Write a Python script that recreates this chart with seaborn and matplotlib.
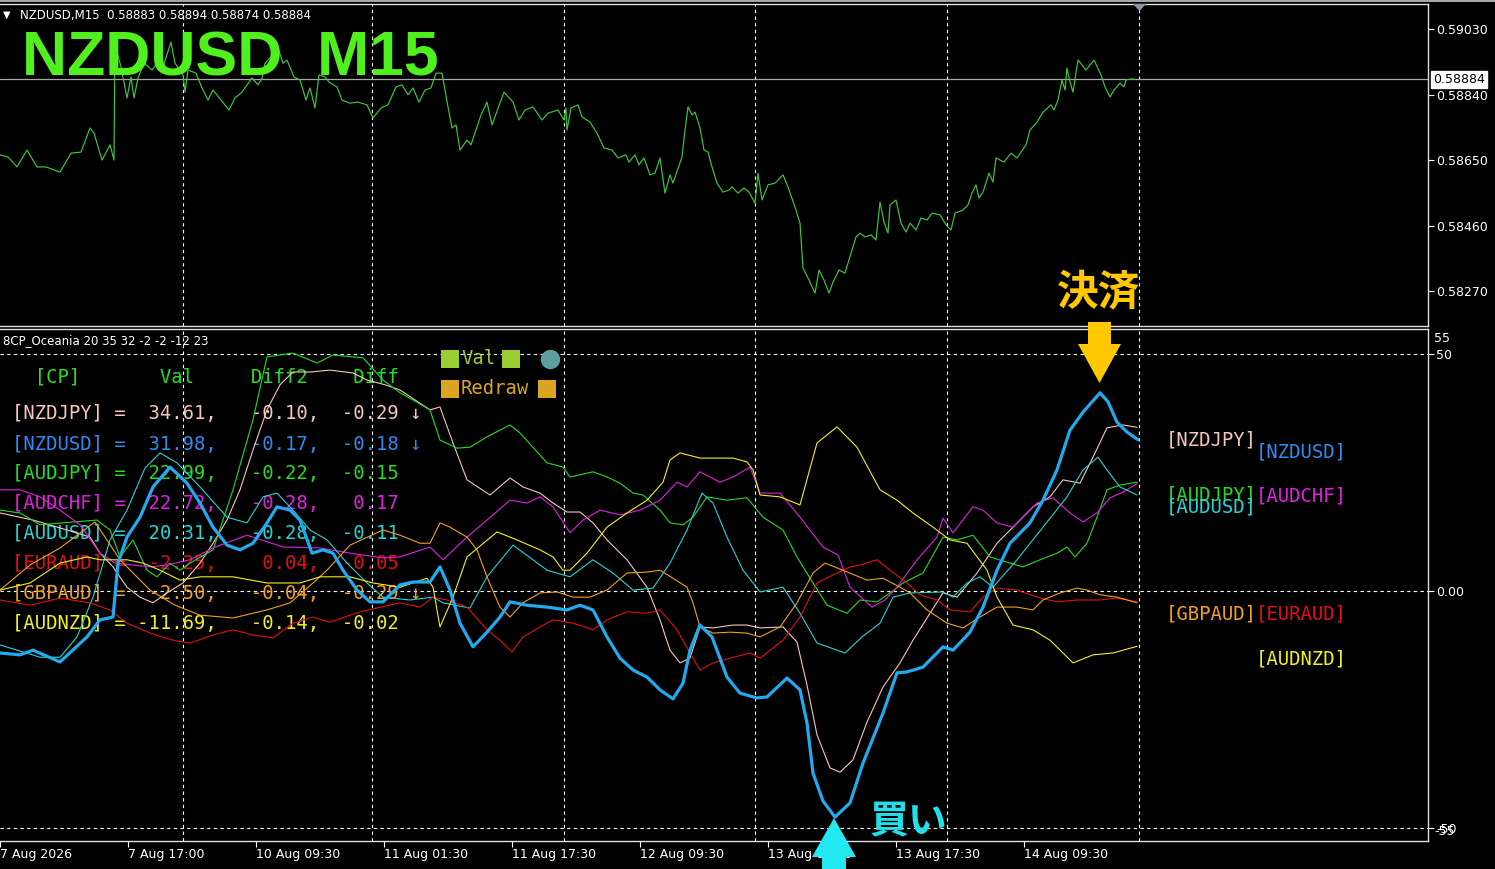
import matplotlib
matplotlib.use("Agg")
import matplotlib.pyplot as plt
import matplotlib.transforms as mtransforms
from matplotlib.patches import Polygon, Rectangle
from matplotlib.lines import Line2D
import seaborn as sns

W, H = 1495, 869

# === time axis: steps of 7.5 min (2 steps per M15 bar) ===
tick_t = [0, 128, 256, 384, 512, 640, 768, 896, 1024]
tick_labels = ["7 Aug 2026", "7 Aug 17:00", "10 Aug 09:30", "11 Aug 01:30", "11 Aug 17:30",
               "12 Aug 09:30", "13 Aug 01:30", "13 Aug 17:30", "14 Aug 09:30"]
grid_t = [183, 372, 564, 755, 947, 1139]

# === NZDUSD M15 close ===
price_t = [0, 8, 17, 27, 37, 46, 60, 71, 81, 90, 94, 102, 110, 114, 115, 121, 127, 131, 134, 138,
           144, 152, 158, 163, 171, 175, 183, 185, 188, 196, 202, 208, 213, 221, 229, 235, 242, 252, 258, 262,
           265, 271, 278, 283, 287, 294, 300, 306, 310, 315, 319, 325, 329, 337, 342, 350, 358, 367, 373, 381,
           388, 396, 402, 408, 413, 419, 425, 431, 436, 442, 448, 452, 456, 460, 467, 471, 481, 487, 492, 504,
           513, 519, 525, 533, 542, 548, 558,
           564, 566, 567, 571, 578, 582, 590, 597, 604, 612, 618, 626, 629, 635, 639, 644, 650, 655, 660, 665,
           670, 673, 682, 685, 688, 692, 695, 700, 704, 708, 712, 717, 723, 729, 732, 738, 744, 749, 755, 758,
           762, 768, 775, 783, 788, 796, 800, 803, 809, 815, 819, 824, 829, 833, 839, 845, 848, 856, 860, 865,
           871, 876, 880, 884, 888, 890, 896, 901, 906, 910, 916, 921, 927, 932, 940, 946, 951, 955, 963, 968,
           972, 976, 979, 983, 989, 993, 996, 1004, 1011, 1017, 1026, 1030, 1037, 1043, 1051, 1054, 1058, 1062,
           1065, 1067, 1070, 1073, 1078, 1086, 1094, 1101, 1105, 1110, 1114, 1120, 1124, 1126, 1131, 1135]
price = [0.58665, 0.58659, 0.58630, 0.58679, 0.58630, 0.58630, 0.58615, 0.58670, 0.58673, 0.58743,
         0.58728, 0.58650, 0.58694, 0.58650, 0.58984, 0.58920, 0.58830, 0.58891, 0.58830, 0.58888,
         0.58931, 0.58911, 0.58934, 0.58920, 0.58992, 0.58931, 0.58897, 0.58847, 0.58911, 0.58902,
         0.58859, 0.58824, 0.58853, 0.58824, 0.58795, 0.58830, 0.58847, 0.58888, 0.58868, 0.58888,
         0.58931, 0.58949, 0.58975, 0.58931, 0.58940, 0.58891, 0.58882, 0.58824, 0.58859, 0.58801,
         0.58897, 0.58891, 0.58876, 0.58862, 0.58824, 0.58815, 0.58818, 0.58810, 0.58772, 0.58801,
         0.58810, 0.58862, 0.58868, 0.58839, 0.58859, 0.58818, 0.58853, 0.58859, 0.58902, 0.58902,
         0.58804, 0.58743, 0.58752, 0.58679, 0.58708, 0.58694, 0.58781, 0.58818, 0.58752, 0.58847,
         0.58818, 0.58766, 0.58795, 0.58804, 0.58766, 0.58786, 0.58795,
         0.58766, 0.58801, 0.58737, 0.58801, 0.58810, 0.58775, 0.58760, 0.58728, 0.58685, 0.58679,
         0.58656, 0.58665, 0.58644, 0.58665, 0.58636, 0.58656, 0.58607, 0.58612, 0.58656, 0.58554,
         0.58607, 0.58583, 0.58659, 0.58737, 0.58804, 0.58781, 0.58789, 0.58743, 0.58679, 0.58673,
         0.58630, 0.58583, 0.58557, 0.58563, 0.58572, 0.58554, 0.58569, 0.58557, 0.58525, 0.58612,
         0.58534, 0.58578, 0.58583, 0.58607, 0.58572, 0.58505, 0.58467, 0.58337, 0.58302, 0.58264,
         0.58331, 0.58302, 0.58264, 0.58296, 0.58331, 0.58322, 0.58351, 0.58427, 0.58438, 0.58427,
         0.58433, 0.58418, 0.58528, 0.58470, 0.58438, 0.58520, 0.58534, 0.58467, 0.58441, 0.58467,
         0.58447, 0.58482, 0.58476, 0.58496, 0.58491, 0.58462, 0.58447, 0.58496, 0.58505, 0.58520,
         0.58554, 0.58578, 0.58540, 0.58557, 0.58612, 0.58586, 0.58656, 0.58644, 0.58670, 0.58656,
         0.58694, 0.58737, 0.58760, 0.58789, 0.58810, 0.58795, 0.58824, 0.58882, 0.58853, 0.58917,
         0.58876, 0.58847, 0.58940, 0.58911, 0.58940, 0.58897, 0.58862, 0.58833, 0.58853, 0.58873,
         0.58862, 0.58882, 0.58885, 0.58884]
last_price = 0.58884
price_ticks = [0.59030, 0.58840, 0.58650, 0.58460, 0.58270]

# === 8CP_Oceania strength lines ===
nzdjpy_t = [0, 33, 67, 90, 100, 113, 127, 140, 153, 167, 183, 200, 213, 227, 240, 253, 267, 280, 293, 310,
            330, 353, 367, 385, 400, 430, 440, 453, 467, 490, 510, 523, 540, 553, 567, 580, 593, 607, 627, 647,
            660, 670, 680, 690, 700, 713, 733, 747, 760, 783, 797, 807, 817, 830, 840, 853, 867, 883, 900, 913,
            930, 943, 957, 977, 997, 1013, 1033, 1050, 1063, 1080, 1093, 1107, 1123, 1137]
nzdjpy = [16.5, 15.0, 12.9, 11.4, 8.0, 5.1, 0.8, -1.3, -2.5, -0.4, 1.7, 5.9, 10.1, 15.0, 21.4, 29.8, 38.3, 43.6, 46.3, 46.3,
          46.7, 46.1, 44.6, 43.6, 42.5, 38.3, 38.9, 31.3, 23.5, 20.3, 23.9, 22.0, 20.7, 18.6, 16.7, 16.7, 14.4, 10.8, 6.6, 0.8,
          -6.1, -12.5, -15.2, -14.2, -7.6, -7.8, -7.2, -7.2, -7.8, -7.6, -10.8, -19.9, -30.4, -37.4, -38.3, -35.7, -27.7, -20.3, -15.2, -10.4,
          -4.7, -0.4, -1.3, 3.8, 10.1, 13.5, 17.8, 19.9, 23.5, 22.8, 28.3, 34.5, 35.1, 34.61]

nzdusd_t = [0, 20, 33, 60, 87, 100, 113, 118, 127, 140, 153, 170, 187, 200, 213, 227, 240, 253, 267, 277,
            290, 300, 312, 323, 333, 343, 357, 370, 383, 400, 413, 430, 440, 450, 460, 473, 487, 500, 510, 527,
            547, 567, 580, 593, 607, 620, 633, 647, 660, 673, 683, 690, 700, 712, 727, 740, 757, 767, 787, 800,
            807, 813, 823, 835, 850, 863, 883, 897, 907, 923, 943, 953, 970, 983, 997, 1010, 1030, 1043, 1057, 1070,
            1083, 1100, 1108, 1117, 1127, 1138]
nzdusd = [-13.1, -13.5, -12.5, -15.0, -9.7, -6.1, -5.5, 5.9, 11.4, 15.6, 22.0, 26.2, 22.8, 18.6, 13.5, 9.7, 8.7, 10.1, 14.4, 17.8,
          17.1, 15.0, 8.0, 8.7, 8.0, 4.4, 0.2, -2.3, -2.3, 1.3, 1.9, 1.9, 5.1, 0.2, -6.8, -11.8, -8.7, -5.5, -2.3, -3.0,
          -3.4, -4.0, -3.0, -4.0, -9.7, -14.2, -16.7, -18.2, -20.9, -22.8, -19.5, -12.5, -7.2, -9.7, -18.2, -21.6, -22.6, -22.4, -18.4, -20.9,
          -27.9, -38.5, -44.4, -47.8, -44.8, -36.4, -25.8, -17.3, -17.1, -16.1, -11.8, -12.5, -8.7, -3.4, 4.4, 10.1, 14.4, 19.2, 25.6, 34.0,
          37.8, 41.9, 40.0, 35.7, 33.6, 31.98]

audjpy_t = [0, 20, 40, 97, 110, 120, 133, 147, 157, 170, 180, 190, 213, 233, 253, 267, 293, 317, 333, 363,
            383, 400, 413, 430, 440, 457, 470, 487, 510, 520, 547, 563, 570, 593, 607, 620, 633, 643, 660, 670,
            683, 693, 707, 727, 747, 763, 783, 797, 813, 827, 847, 860, 877, 890, 903, 923, 943, 957, 973, 990,
            1010, 1023, 1040, 1057, 1067, 1075, 1087, 1097, 1107, 1120, 1137]
audjpy = [17.1, 16.5, 14.0, 15.0, 12.9, 7.2, 10.8, 4.4, 3.0, 5.9, 4.4, 5.9, 8.7, 21.4, 36.2, 49.5, 50.3, 48.2, 49.9, 49.3,
          44.6, 41.9, 40.4, 38.3, 31.9, 30.2, 30.4, 32.6, 35.1, 33.4, 27.1, 26.2, 24.1, 25.2, 24.1, 22.8, 20.7, 20.3, 17.1, 14.4,
          14.0, 15.6, 19.9, 19.2, 19.7, 15.6, 12.9, 7.2, 1.7, -3.0, -4.7, -1.9, -2.3, -0.4, 1.7, 3.8, 11.4, 10.8, 11.8, 7.2,
          5.9, 5.1, 6.6, 8.0, 9.3, 7.2, 10.1, 15.6, 21.4, 22.4, 22.99]

audchf_t = [0, 20, 40, 60, 80, 100, 115, 150, 167, 190, 213, 247, 283, 320, 350, 383, 400, 430, 443, 467,
            487, 510, 527, 540, 553, 570, 583, 600, 620, 640, 660, 677, 687, 700, 720, 733, 750, 760, 780, 800,
            823, 838, 850, 872, 885, 897, 917, 937, 943, 953, 973, 983, 997, 1013, 1037, 1053, 1070, 1083, 1097, 1110,
            1123, 1137]
audchf = [21.4, 21.4, 19.9, 17.1, 14.0, 8.0, 5.9, 5.1, 5.5, 6.6, 9.1, 11.8, 9.3, 9.1, 8.0, 7.0, 7.2, 9.3, 6.6, 11.4,
          15.0, 19.2, 18.6, 19.9, 17.8, 12.3, 15.0, 17.1, 16.1, 17.1, 19.2, 23.0, 22.0, 25.2, 23.0, 24.1, 26.2, 20.7, 20.7, 15.6,
          9.3, 7.6, 0.8, -3.4, -1.9, 0.8, 6.6, 11.4, 15.4, 12.3, 17.8, 17.1, 14.4, 13.5, 18.6, 19.7, 16.5, 14.6, 16.5, 19.7,
          20.9, 22.72]

audusd_t = [0, 40, 60, 77, 93, 110, 127, 145, 160, 177, 200, 227, 247, 263, 277, 293, 310, 327, 347, 367,
            383, 410, 433, 443, 470, 487, 513, 533, 547, 570, 593, 613, 633, 653, 670, 687, 702, 713, 727, 743,
            760, 783, 800, 817, 845, 862, 880, 893, 910, 943, 953, 967, 980, 993, 1017, 1043, 1067, 1083, 1098, 1107,
            1120, 1137]
audusd = [-11.4, -14.0, -14.0, -9.7, -1.3, 10.8, 17.1, 26.0, 29.2, 27.1, 22.0, 15.6, 14.4, 19.9, 20.7, 17.1, 12.9, 10.8, 5.9, 1.7,
          -1.3, -1.9, -1.3, -2.5, -3.6, 3.0, 9.7, 6.6, 4.4, 3.0, 6.6, 3.8, 0.2, 0.6, 5.9, 12.9, 20.7, 18.6, 11.4, 4.4,
          -0.2, 0.8, -4.7, -11.0, -13.1, -9.7, -6.8, -1.3, -0.4, -0.2, -1.3, 1.7, 3.0, 0.8, 6.6, 13.5, 19.9, 25.6, 28.3, 25.6,
          22.0, 20.31]

euraud_t = [0, 30, 60, 90, 110, 127, 150, 173, 190, 213, 233, 253, 273, 293, 313, 330, 360, 400, 420, 433,
            447, 467, 487, 500, 512, 523, 540, 553, 573, 593, 607, 627, 647, 660, 677, 690, 700, 713, 730, 750,
            760, 783, 800, 817, 833, 850, 860, 877, 890, 907, 920, 937, 950, 970, 983, 997, 1017, 1037, 1057, 1077,
            1100, 1117, 1137]
euraud = [-1.9, -3.0, -1.5, -2.5, -4.0, -6.8, -8.9, -10.4, -11.0, -9.3, -8.2, -9.3, -9.9, -6.8, -5.5, -6.6, -4.4, -2.5, -3.4, -1.3,
          -1.9, -3.4, -8.2, -10.4, -12.9, -9.7, -7.6, -6.1, -6.8, -8.2, -6.1, -4.4, -4.7, -4.0, -8.2, -13.1, -16.7, -15.2, -14.2, -13.1,
          -14.2, -10.4, -5.5, 1.7, 3.4, 5.1, 5.5, 6.6, 4.4, 1.7, -0.8, -1.9, -4.0, -4.4, -1.3, 0.6, 0.2, -1.3, -2.3, -1.9,
          -1.9, -1.5, -2.25]

gbpaud_t = [0, 30, 60, 95, 120, 150, 175, 200, 233, 267, 290, 313, 327, 350, 383, 400, 420, 430, 440, 450,
            467, 477, 487, 500, 510, 523, 540, 557, 573, 590, 607, 627, 647, 660, 673, 687, 693, 700, 713, 730,
            747, 760, 780, 797, 813, 825, 843, 867, 883, 900, 910, 927, 947, 963, 980, 997, 1017, 1033, 1043, 1060,
            1077, 1087, 1100, 1117, 1137]
gbpaud = [0.2, 5.5, 9.1, 14.6, 6.6, 0.2, -3.0, -5.1, -5.7, -4.0, -2.5, 1.7, 4.4, 9.7, 12.9, 11.8, 10.1, 10.1, 14.4, 13.5,
          11.4, 8.7, 3.0, -3.4, -5.5, -2.5, -0.4, -0.2, -1.3, -1.3, 0.2, 3.8, 4.0, 4.4, 2.7, 0.8, -2.5, -7.6, -8.9, -8.7,
          -8.9, -9.7, -7.6, -2.5, 3.8, 5.9, 4.4, 2.3, 2.7, 0.8, -0.4, -4.0, -6.8, -7.8, -5.5, -3.4, -3.4, -4.0, -1.9, -0.4,
          0.6, 0.2, -0.8, -1.3, -2.50]

audnzd_t = [0, 30, 60, 87, 100, 127, 143, 160, 180, 200, 233, 267, 300, 320, 350, 373, 400, 427, 433, 440,
            453, 467, 497, 517, 540, 553, 563, 570, 587, 607, 627, 647, 663, 670, 680, 700, 733, 747, 753, 760,
            780, 800, 817, 837, 857, 880, 897, 913, 933, 950, 967, 987, 997, 1013, 1033, 1050, 1073, 1093, 1113, 1137]
audnzd = [0.2, 1.7, 5.9, 7.2, 6.6, 6.6, 5.9, 4.4, 2.3, 3.0, 3.0, 1.7, 1.7, 3.0, 3.0, 1.7, 0.8, 2.7, 0.8, -7.6,
          -1.3, 7.2, 12.5, 10.8, 8.7, 7.2, 4.4, 4.4, 8.0, 13.5, 16.5, 19.2, 23.0, 27.7, 29.2, 28.1, 28.1, 27.3, 25.6, 20.3,
          19.9, 18.2, 31.3, 34.7, 30.4, 21.4, 19.2, 16.5, 13.5, 10.8, 10.1, 4.4, -1.3, -7.2, -8.2, -10.4, -15.2, -13.5, -13.1, -11.69]

# === table ===
pairs = ["NZDJPY", "NZDUSD", "AUDJPY", "AUDCHF", "AUDUSD", "EURAUD", "GBPAUD", "AUDNZD"]
vals = [34.61, 31.98, 22.99, 22.72, 20.31, -2.25, -2.50, -11.69]
diff2 = [-0.10, -0.17, -0.22, -0.28, -0.28, 0.04, -0.04, -0.14]
diff = [-0.29, -0.18, -0.15, 0.17, -0.11, -0.05, -0.29, -0.02]
arrows = ["↓", "↓", "", "", "", "", "↓", ""]

colors = {"NZDJPY": "#F4C6BC", "NZDUSD": "#2E8CF0", "AUDJPY": "#22DD22", "AUDCHF": "#E020E0",
          "AUDUSD": "#22D4D4", "EURAUD": "#E01010", "GBPAUD": "#F0A020", "AUDNZD": "#F0F020"}
NZDUSD_LINE = "#22AAEE"
MONO = "DejaVu Sans Mono"

sns.set_theme(style="dark", rc={"axes.facecolor": "black", "figure.facecolor": "black"})
plt.rcParams['font.family'] = ['DejaVu Sans', 'Noto Sans CJK JP']

fig = plt.figure(figsize=(W / 100, H / 100), dpi=100)
fig.patch.set_facecolor("black")


def fp(px, py):
    # пиксели сверху-слева -> доли фигуры
    return px / W, 1 - py / H


ax1 = fig.add_axes([0, 1 - 326 / H, 1428 / W, (326 - 4) / H])
ax2 = fig.add_axes([0, 1 - 841 / H, 1428 / W, (841 - 329) / H])

for ax in (ax1, ax2):
    ax.set_facecolor("black")
    ax.set_xlim(0, 1428)
    ax.grid(False)
    for side in ("top", "right", "bottom"):
        ax.spines[side].set_visible(True)
        ax.spines[side].set_color("#E0E0E0")
        ax.spines[side].set_linewidth(1)
    ax.spines["left"].set_visible(False)
    for t in grid_t:
        ax.axvline(t, color="white", lw=0.8, ls=(0, (3, 3)), zorder=0.5)

# --- price panel ---
ax1.axhline(last_price, color="#A8A8A8", lw=0.9, zorder=1)
sns.lineplot(x=price_t, y=price, ax=ax1, color="#3CC83C", linewidth=0.85,
             estimator=None, sort=False, legend=False)
ax1.set_ylim(0.581687, 0.591025)
ax1.set_xlabel("")
ax1.set_ylabel("")
ax1.yaxis.tick_right()
ax1.set_yticks(price_ticks)
ax1.set_yticklabels([f"{v:.5f}" for v in price_ticks])
ax1.tick_params(axis="y", right=True, left=False, colors="white", length=4, width=0.8, pad=2, labelsize=9)
ax1.tick_params(axis="x", bottom=False, labelbottom=False)
right_tr1 = mtransforms.blended_transform_factory(ax1.transAxes, ax1.transData)
ax1.text(1 + 5 / 1428, last_price, f"{last_price:.5f}", transform=right_tr1, color="black", fontsize=9,
         va="center", ha="left", zorder=5,
         bbox=dict(facecolor="white", edgecolor="white", boxstyle="square,pad=0.15"))

ax1.text(*fp(22, 75), "NZDUSD  M15", transform=fig.transFigure, family="Liberation Sans",
         weight="bold", fontsize=45, color="#50F01E", va="baseline", ha="left", zorder=3)
ax1.text(*fp(3, 15), "▼", transform=fig.transFigure, color="white", fontsize=7, va="center", ha="left")
ax1.text(*fp(20, 15), "NZDUSD,M15  0.58883 0.58894 0.58874 0.58884", transform=fig.transFigure,
         color="white", fontsize=8.5, va="center", ha="left")

# --- indicator panel ---
ax2.axhline(50, color="white", lw=0.8, ls=(0, (3, 3)), zorder=0.5)
ax2.axhline(0, color="white", lw=0.8, ls=(0, (3, 3)), zorder=0.5)
ax2.axhline(-50, color="white", lw=0.8, ls=(0, (3, 3)), zorder=0.5)

thin = [(nzdjpy_t, nzdjpy, "NZDJPY"), (audjpy_t, audjpy, "AUDJPY"), (audchf_t, audchf, "AUDCHF"),
        (audusd_t, audusd, "AUDUSD"), (euraud_t, euraud, "EURAUD"), (gbpaud_t, gbpaud, "GBPAUD"),
        (audnzd_t, audnzd, "AUDNZD")]
for xs, ys, name in thin:
    sns.lineplot(x=xs, y=ys, ax=ax2, color=colors[name], linewidth=0.8,
                 estimator=None, sort=False, legend=False, zorder=2)
sns.lineplot(x=nzdusd_t, y=nzdusd, ax=ax2, color=NZDUSD_LINE, linewidth=2.3,
             estimator=None, sort=False, legend=False, zorder=3)

ax2.set_ylim(-52.85, 55.39)
ax2.set_xlabel("")
ax2.set_ylabel("")
ax2.yaxis.tick_right()
ax2.set_yticks([50, 0, -50])
ax2.set_yticklabels(["50", "0.00", "-50"])
ax2.tick_params(axis="y", right=True, left=False, colors="white", length=4, width=0.8, pad=2, labelsize=9)
ax2.set_xticks(tick_t)
ax2.set_xticklabels(tick_labels, ha="left")
ax2.tick_params(axis="x", bottom=True, colors="white", length=4, width=0.8, pad=1, labelsize=9)
right_tr2 = mtransforms.blended_transform_factory(ax2.transAxes, ax2.transData)
ax2.text(1 + 6 / 1428, 53.3, "55", transform=right_tr2, color="white", fontsize=9, va="center", ha="left")
ax2.text(1 + 6 / 1428, -50.9, "-55", transform=right_tr2, color="white", fontsize=9, va="center", ha="left")

ax2.text(*fp(3, 341), "8CP_Oceania 20 35 32 -2 -2 -12 23", transform=fig.transFigure,
         color="white", fontsize=8.5, va="center", ha="left", zorder=1)

# таблица
ax2.text(*fp(12, 377), "  [CP]       Val     Diff2    Diff", transform=fig.transFigure,
         family=MONO, fontsize=13.6, color="#22DD22", va="center", ha="left", zorder=1)
for i, name in enumerate(pairs):
    row = f"[{name}] = {vals[i]:6.2f},   {diff2[i]:5.2f},  {diff[i]:5.2f}"
    if arrows[i]:
        row += " " + arrows[i]
    ax2.text(*fp(12, 414 + 30 * i), row, transform=fig.transFigure, family=MONO, fontsize=13.6,
             color=colors[name], va="center", ha="left", zorder=1)

# подписи справа
right_labels = [("NZDJPY", 1166, 440), ("NZDUSD", 1256, 452), ("AUDJPY", 1166, 495),
                ("AUDUSD", 1166, 507), ("AUDCHF", 1256, 496), ("GBPAUD", 1166, 614),
                ("EURAUD", 1256, 614), ("AUDNZD", 1256, 659)]
for name, px, py in right_labels:
    ax2.text(*fp(px, py), f"[{name}]", transform=fig.transFigure, family=MONO, fontsize=13.6,
             color=colors[name], va="center", ha="left", zorder=1)

# Val / Redraw
for (px, py, col) in [(441, 368, "#9ACD32"), (502, 368, "#9ACD32"), (441, 398, "#DAA520"), (538, 398, "#DAA520")]:
    fig.add_artist(Rectangle(fp(px, py), 18 / W, 18 / H, transform=fig.transFigure,
                             facecolor=col, edgecolor="none", zorder=4))
ax2.text(*fp(461, 359), "Val", transform=fig.transFigure, family=MONO, fontsize=13.6,
         color="#9ACD32", va="center", ha="left", zorder=1)
ax2.text(*fp(461, 389), "Redraw", transform=fig.transFigure, family=MONO, fontsize=13.6,
         color="#DAA520", va="center", ha="left", zorder=1)
cx, cy = fp(550, 359)
fig.add_artist(Line2D([cx], [cy], transform=fig.transFigure, marker="o", markersize=14,
                      markerfacecolor="#5F9EA0", markeredgecolor="none", zorder=4))

# стрелки и подписи
down = [(1088, 322), (1111, 322), (1111, 344), (1121, 344), (1099.5, 383), (1078, 344), (1088, 344)]
up = [(834, 818), (856, 857), (846, 857), (846, 869), (822, 869), (822, 857), (812, 857)]
fig.add_artist(Polygon([fp(x, y) for x, y in down], closed=True, transform=fig.transFigure,
                       facecolor="#FFC800", edgecolor="none", zorder=6))
fig.add_artist(Polygon([fp(x, y) for x, y in up], closed=True, transform=fig.transFigure,
                       facecolor="#22E8F2", edgecolor="none", zorder=6))
fig.text(*fp(1098, 292), "決済", family=["Noto Sans CJK JP"], weight="bold", fontsize=30,
         color="#FFC800", va="center", ha="center", zorder=6)
fig.text(*fp(909, 822), "買い", family=["Noto Sans CJK JP"], weight="bold", fontsize=28,
         color="#22E0EA", va="center", ha="center", zorder=6)

# маркер сдвига графика
fig.add_artist(Polygon([fp(1133, 4), fp(1146, 4), fp(1139.5, 11)], closed=True, transform=fig.transFigure,
                       facecolor="#8C96A0", edgecolor="none", zorder=6))
fig.add_artist(Line2D([0, 1], [1 - 1 / H, 1 - 1 / H], transform=fig.transFigure, color="#C8C8C8", lw=1.2))

fig.savefig("out.png", dpi=100, facecolor="black")
